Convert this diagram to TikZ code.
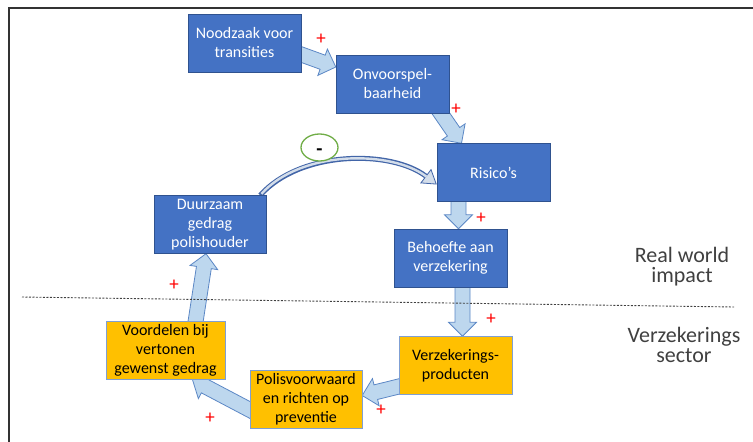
\documentclass[tikz,border=0pt]{standalone}
\usepackage{fontspec}
\setmainfont{Carlito}
\usetikzlibrary{calc,shapes.geometric,arrows.meta}
\newcommand{\ShaftHalf}{7.5pt}
\newcommand{\HeadHalf}{14pt}
\newcommand{\HeadLen}{14pt}
\definecolor{boxblue}{HTML}{4472C4}
\definecolor{boxblueline}{HTML}{2F528F}
\definecolor{boxyellow}{HTML}{FFC000}
\definecolor{boxyellowline}{HTML}{7F9FD3}
\definecolor{arrowfill}{HTML}{BDD7EE}
\definecolor{arrowline}{HTML}{5B87C5}
\definecolor{curvedark}{HTML}{4265A8}
\definecolor{curvelight}{HTML}{D3DDEA}
\definecolor{ringgreen}{HTML}{70AD47}
\definecolor{plusred}{HTML}{FF0000}
\definecolor{labelgray}{HTML}{404040}
\definecolor{framegray}{HTML}{333333}

\pgfdeclarelayer{bg}
\pgfsetlayers{bg,main}

\tikzset{
  box/.style={minimum width=113pt, minimum height=58pt, inner sep=1pt,
    align=center, font=\fontsize{16}{19}\selectfont},
  bluebox/.style={box, fill=boxblue, draw=boxblueline, text=white},
  yellowbox/.style={box, fill=boxyellow, draw=boxyellowline, text=black},
  blockarrow/.style={fill=arrowfill, draw=arrowline, line width=0.8pt, line join=miter},
  plusmark/.style={text=plusred, inner sep=0pt, font=\fontsize{19}{19}\selectfont},
  sidelabel/.style={text=labelgray, align=center, font=\fontsize{22}{20}\selectfont},
  minusring/.style={ellipse, draw=ringgreen, line width=1.3pt, fill=white,
    minimum width=37pt, minimum height=27pt, inner sep=0pt,
    font=\bfseries\fontsize{20}{20}\selectfont},
}

% block arrow from #1 (tail) to #2 (tip)
\newcommand{\BlockArrow}[2]{%
  \coordinate (neck) at ($(#2)!\HeadLen!(#1)$);
  \filldraw[blockarrow] ($(#1)!\ShaftHalf!90:(#2)$) -- ($(neck)!\ShaftHalf!90:(#2)$)
    -- ($(neck)!\HeadHalf!90:(#2)$) -- (#2) -- ($(neck)!\HeadHalf!-90:(#2)$)
    -- ($(neck)!\ShaftHalf!-90:(#2)$) -- ($(#1)!\ShaftHalf!-90:(#2)$) -- cycle;
}

\begin{document}
\begin{tikzpicture}[x=1pt,y=-1pt]
  \useasboundingbox (0,0) rectangle (753,442);

  % ---- frame --------------------------------------------------------------
  \draw[framegray, line width=1.5pt] (9,442) -- (9,8) -- (753,8);

  % ---- divider between the two worlds -------------------------------------
  \draw[labelgray, line width=0.9pt, dash pattern=on 2pt off 1.5pt] (22,297) -- (734,307);
  \node[sidelabel] (realworld) at (682,267) {Real world\\impact};
  \node[sidelabel] (sector) at (684,345) {Verzekerings\\sector};

  % ---- real world boxes ---------------------------------------------------
  \node[bluebox] (noodzaak) at (244.5,43) {Noodzaak voor\\transities};
  \node[bluebox] (onvoorspel) at (392.5,84) {Onvoorspel-\\baarheid};
  \node[bluebox] (risicos) at (493.5,172.5) {Risico’s};
  \node[bluebox] (behoefte) at (450.5,258) {Behoefte aan\\verzekering};
  \node[bluebox, minimum width=112pt] (duurzaam) at (210,224.5) {Duurzaam\\gedrag\\polishouder};

  % ---- insurance boxes ----------------------------------------------------
  \node[yellowbox] (producten) at (455.5,365.5) {Verzekerings-\\producten};
  \node[yellowbox, minimum width=112pt] (polis) at (306,399.5) {Polisvoorwaard\\en richten op\\preventie};
  \node[yellowbox, minimum width=119pt] (voordelen) at (165.5,350.5) {Voordelen bij\\vertonen\\gewenst gedrag};

  % ---- arrows, behind the boxes -------------------------------------------
  \begin{pgfonlayer}{bg}
    \coordinate (a1) at ([xshift=-4pt,yshift=-10pt]noodzaak.east);
    \coordinate (b1) at ([yshift=17pt]onvoorspel.west);
    \coordinate (a2) at ([xshift=45.5pt,yshift=4pt]onvoorspel.south);
    \coordinate (b2) at ([xshift=-32pt]risicos.north);
    \coordinate (a3) at ([xshift=-35pt,yshift=4pt]risicos.south);
    \coordinate (b3) at ([xshift=8pt]behoefte.north);
    \coordinate (a4) at ([xshift=12pt,yshift=4pt]behoefte.south);
    \coordinate (b4) at ([xshift=7pt]producten.north);
    \coordinate (a5) at ([xshift=4pt,yshift=-20pt]producten.west);
    \coordinate (b5) at ([yshift=4pt]polis.east);
    \coordinate (a6) at ([xshift=4pt,yshift=-12.5pt]polis.west);
    \coordinate (b6) at ([xshift=27pt]voordelen.south);
    \coordinate (a7) at ([xshift=29.5pt,yshift=-4pt]voordelen.north);
    \coordinate (b7) at ([xshift=-4pt]duurzaam.south);
    \foreach \i in {1,...,7} {
      \BlockArrow{a\i}{b\i}
    }

    % the balancing link back to the risks
    \coordinate (c1) at ([xshift=-6pt]duurzaam.north east);
    \coordinate (c2) at ([yshift=-12pt]risicos.west);
    \draw[curvedark, line width=5pt,
      -{Triangle[length=14pt,width=18pt,line width=0.8pt,fill=curvelight]}]
      (c1) .. controls +(40,-45) and +(-46,-35) .. (c2);
    \draw[curvelight, line width=2.4pt, shorten >=13pt, shorten <=2pt]
      (c1) .. controls +(40,-45) and +(-46,-35) .. (c2);
  \end{pgfonlayer}

  \node[minusring] (minus) at (319.5,147.5) {\raisebox{-8pt}[0pt][0pt]{-}};

  % ---- polarity marks -----------------------------------------------------
  \node[plusmark] (p1) at (321,39) {+};
  \node[plusmark] (p2) at (456,109) {+};
  \node[plusmark] (p3) at (481,218) {+};
  \node[plusmark] (p4) at (491,319) {+};
  \node[plusmark] (p5) at (381,410) {+};
  \node[plusmark] (p6) at (210,418) {+};
  \node[plusmark] (p7) at (174,285) {+};

\end{tikzpicture}
\end{document}
